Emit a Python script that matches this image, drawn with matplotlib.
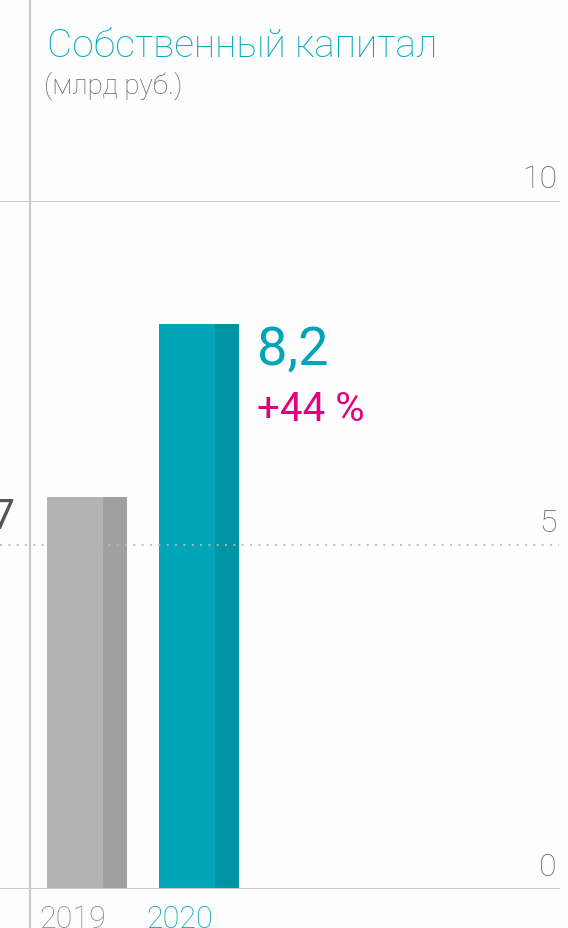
import matplotlib
matplotlib.use("Agg")
import matplotlib.pyplot as plt
import matplotlib.transforms as mtransforms
from matplotlib.lines import Line2D

plt.rcParams["font.family"] = ["Roboto", "DejaVu Sans"]

# data
YEARS  = ["2019", "2020"]
VALUES = [5.7, 8.2]
LABELS = ["5,7", "8,2"]
CHANGE = "+44 %"
YTICKS = [0, 5, 10]

TITLE    = "Собственный капитал"
SUBTITLE = "(млрд руб.)"

# styles
BG        = "#fdfdfd"
GRID      = "#c8c8c8"
TEAL      = "#00a5b8"
TEAL_DK   = "#0093a3"
GREY      = "#b3b3b3"
GREY_DK   = "#a0a0a0"
MAGENTA   = "#e2007f"
BAR_COLORS = [(GREY, GREY_DK), (TEAL, TEAL_DK)]
YEAR_COLORS = ["#8a8a8a", TEAL]
YEAR_SHIFT = [-0.125, -0.175]

W, H = 568, 929
BAR_W, STRIP_W = 0.714, 0.214

fig = plt.figure(figsize=(W / 100, H / 100), dpi=100, facecolor=BG)
ax = fig.add_axes([0, 39 / H, 1, 688.5 / H])
ax.set_facecolor(BG)
ax.set_xlim(-0.777, 4.295)
ax.set_ylim(0, 10)
ax.axis("off")

# bars: light body + darker right strip
for i, (v, (c, cd)) in enumerate(zip(VALUES, BAR_COLORS)):
    ax.bar(i, v, width=BAR_W, color=c, zorder=2)
    ax.bar(i + BAR_W / 2 - STRIP_W / 2, v, width=STRIP_W, color=cd, zorder=2)

# grid lines
xr = 559 / W
for t in YTICKS:
    if t == 5:
        ax.axhline(t, xmin=0, xmax=xr, color="#b8b8b8", lw=1.5,
                   ls=(0, (1, 3)), alpha=0.85, zorder=3)
    else:
        ax.axhline(t, xmin=0, xmax=xr, color=GRID, lw=1.5, zorder=3)

fig.add_artist(Line2D([30 / W, 30 / W], [0, 1], transform=fig.transFigure,
                      color=GRID, lw=1.5))

# tick labels (right side, above the line)
trans = mtransforms.blended_transform_factory(ax.transAxes, ax.transData)
for t in YTICKS:
    ax.text(557 / W, t + 0.2, str(t), transform=trans, ha="right",
            va="baseline", fontsize=23, fontweight="light", color="#666666")

# value labels
ax.text(0 - 0.64, VALUES[0] - 0.44, LABELS[0], ha="right", va="baseline",
        fontsize=30, fontweight="normal", color="#555555")
ax.text(1 + 0.52, VALUES[1] - 0.57, LABELS[1], ha="left", va="baseline",
        fontsize=39, fontweight="normal", color=TEAL)
ax.text(1 + 0.52, VALUES[1] - 1.39, CHANGE, ha="left", va="baseline",
        fontsize=29, fontweight="normal", color=MAGENTA)

# year labels
for i, (y, c) in enumerate(zip(YEARS, YEAR_COLORS)):
    ax.text(i + YEAR_SHIFT[i], -0.55, y, ha="center", va="baseline",
            fontsize=22, fontweight="light", color=c)

# title
fig.text(47 / W, 1 - 57 / H, TITLE, ha="left", va="baseline", fontsize=28,
         fontweight="light", color="#00a9bd")
fig.text(44 / W, 1 - 94 / H, SUBTITLE, ha="left", va="baseline", fontsize=20,
         fontweight="light", color="#666666")

fig.savefig("out.png", dpi=100, facecolor=BG)
